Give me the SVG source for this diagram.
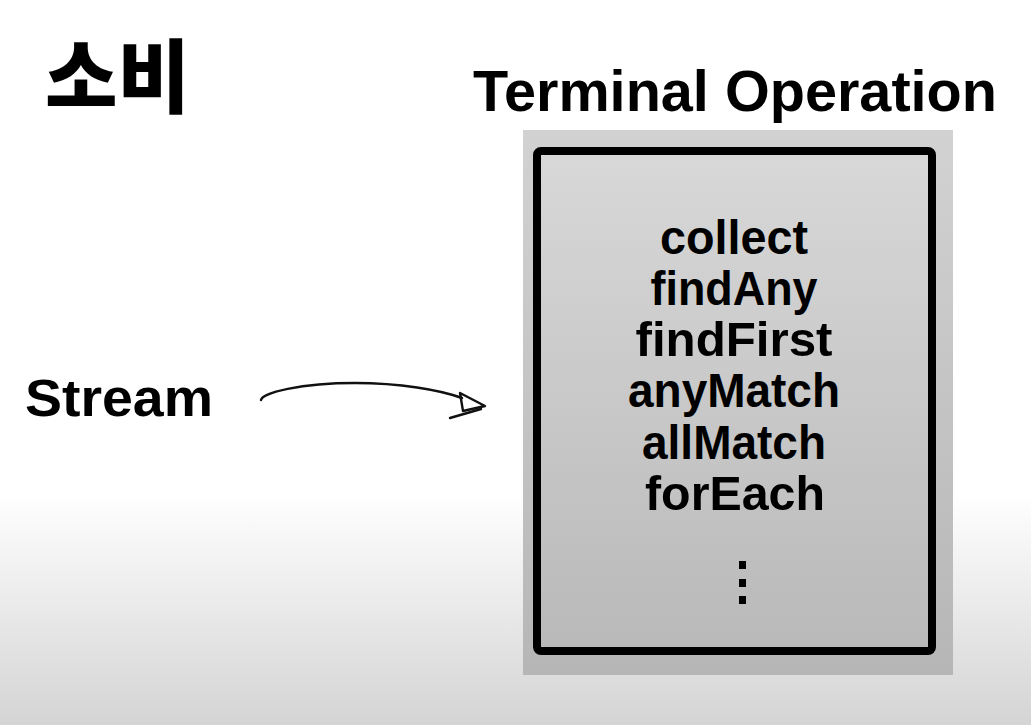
<svg xmlns="http://www.w3.org/2000/svg" width="1031" height="725" viewBox="0 0 1031 725">
<defs>
<linearGradient id="bg" x1="0" y1="0" x2="0" y2="1">
<stop offset="0" stop-color="#ffffff"/>
<stop offset="0.68" stop-color="#ffffff"/>
<stop offset="1" stop-color="#d4d4d4"/>
</linearGradient>
<linearGradient id="boxfill" x1="0" y1="0" x2="0" y2="1">
<stop offset="0" stop-color="#d8d8d8"/>
<stop offset="1" stop-color="#b9b9b9"/>
</linearGradient>
<linearGradient id="outerfill" x1="0" y1="0" x2="0" y2="1">
<stop offset="0" stop-color="#d2d2d2"/>
<stop offset="1" stop-color="#b6b6b6"/>
</linearGradient>
</defs>
<style>
.t{font-family:"Liberation Sans","Noto Sans CJK KR",sans-serif;font-weight:bold;fill:#000}
.item{font-size:48px;text-anchor:middle}
.arrow{fill:none;stroke:#111;stroke-width:2.4;stroke-linecap:round;stroke-linejoin:round}
</style>
<rect x="0" y="0" width="1031" height="725" fill="url(#bg)"/>
<g id="title">
<text x="45" y="106" font-size="80" style="font-family:'Noto Sans CJK KR',sans-serif;font-weight:900;fill:#000" textLength="145" lengthAdjust="spacingAndGlyphs">소비</text>
</g>
<g id="heading">
<text class="t" x="473" y="111" font-size="58" textLength="524" lengthAdjust="spacingAndGlyphs">Terminal Operation</text>
</g>
<g id="stream">
<text class="t" x="25" y="416" font-size="51" textLength="188" lengthAdjust="spacingAndGlyphs">Stream</text>
</g>
<g id="terminal-box">
<rect x="523" y="130" width="430" height="545" fill="url(#outerfill)"/>
<rect x="537" y="151" width="395" height="500" rx="4" fill="url(#boxfill)" stroke="#000" stroke-width="8"/>
<text class="t item" x="734" y="254" textLength="148" lengthAdjust="spacingAndGlyphs">collect</text>
<text class="t item" x="734" y="305" textLength="167" lengthAdjust="spacingAndGlyphs">findAny</text>
<text class="t item" x="734" y="356" textLength="197" lengthAdjust="spacingAndGlyphs">findFirst</text>
<text class="t item" x="734" y="407" textLength="212" lengthAdjust="spacingAndGlyphs">anyMatch</text>
<text class="t item" x="734" y="459" textLength="184" lengthAdjust="spacingAndGlyphs">allMatch</text>
<text class="t item" x="735" y="510" textLength="180" lengthAdjust="spacingAndGlyphs">forEach</text>
<rect x="739" y="561" width="7" height="8" fill="#000"/>
<rect x="739" y="579" width="7" height="8" fill="#000"/>
<rect x="739" y="596" width="7" height="8" fill="#000"/>
</g>
<g id="connectors">
<path class="arrow" d="M261,400 C262,393 300,383 355,383 C400,383 440,390 462,398"/>
<path class="arrow" d="M460,393 L485,406 L463,411 Z"/>
<path class="arrow" d="M450,418 L481,409"/>
</g>
</svg>
